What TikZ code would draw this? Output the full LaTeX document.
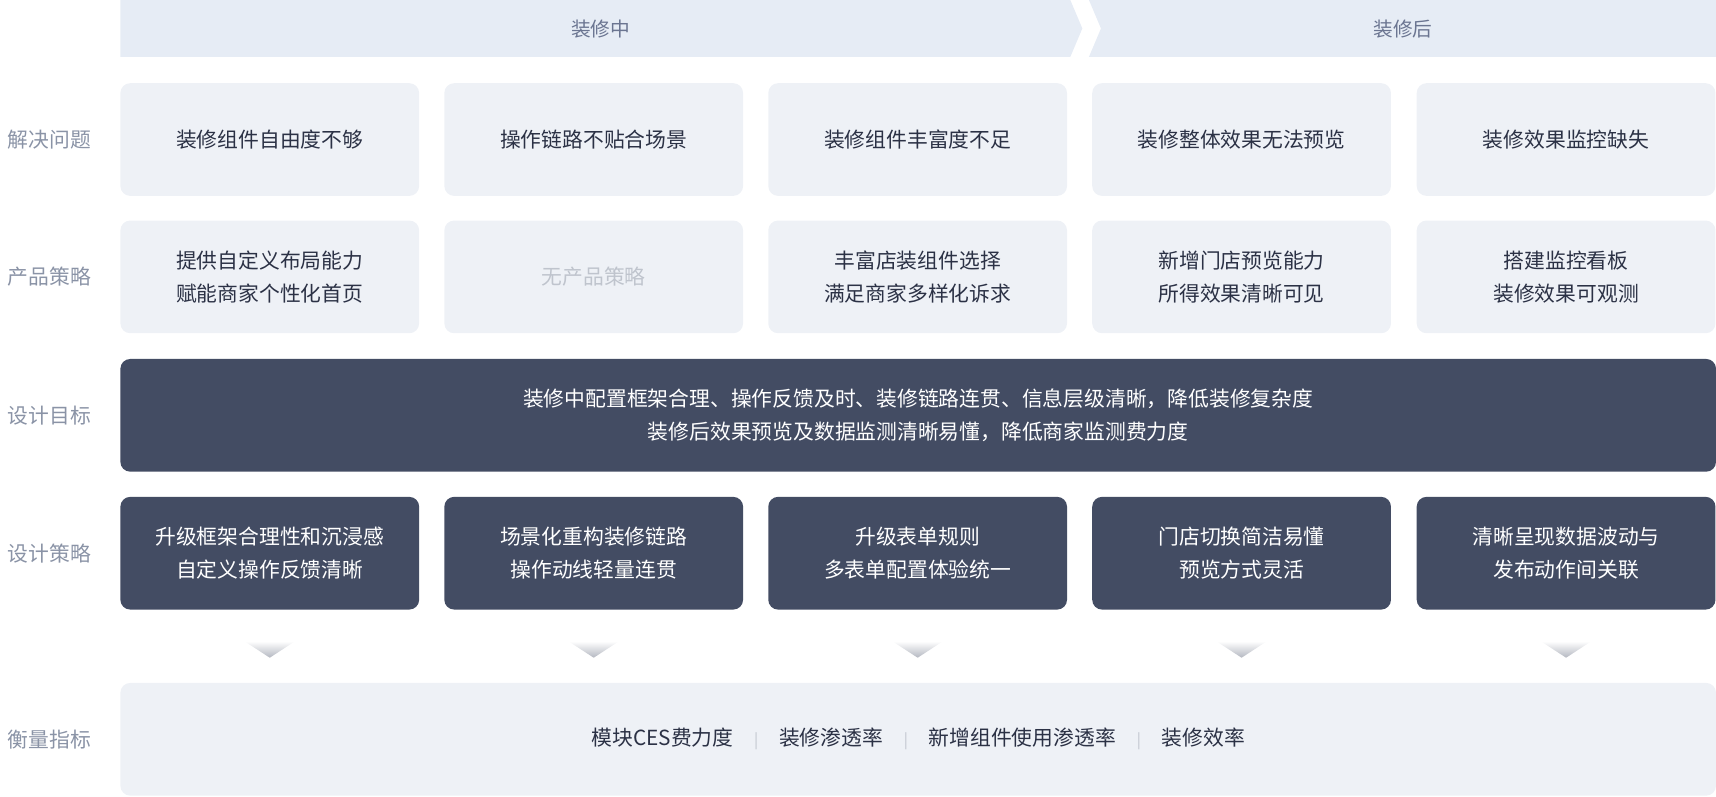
\documentclass[tikz,border=0pt]{standalone}
\usepackage{fontspec}
\setmainfont{Noto Sans CJK SC}
\usetikzlibrary{positioning}
\definecolor{bandbg}{HTML}{E6ECF5}
\definecolor{bandtxt}{HTML}{6B7591}
\definecolor{lightbg}{HTML}{EEF1F6}
\definecolor{darkbg}{HTML}{434C63}
\definecolor{maintxt}{HTML}{2B3145}
\definecolor{sidetxt}{HTML}{8A93A6}
\definecolor{mutetxt}{HTML}{BFC4CD}
\tikzset{
  lightbox/.style={fill=lightbg, rounded corners=9pt, minimum width=273pt, minimum height=103pt,
    text=maintxt, align=center, font=\fontsize{19}{30}\selectfont},
  darkbox/.style={lightbox, fill=darkbg, text=white},
  sidelabel/.style={text=sidetxt, font=\fontsize{19}{22}\selectfont},
  bandlabel/.style={text=bandtxt, font=\fontsize{18}{22}\selectfont},
  downtri/.style={top color=white, bottom color=darkbg!40, draw=none},
}
\begin{document}
\begin{tikzpicture}[x=1pt, y=-1pt]
    \useasboundingbox (0,0) rectangle (1568,728);

    % Bandeau des phases
    \fill[bandbg] (110,0) -- (978,0) -- (989,26) -- (978,52) -- (110,52) -- cycle;
    \fill[bandbg] (995,0) -- (1568,0) -- (1568,52) -- (995,52) -- (1006,26) -- cycle;
    \node[bandlabel] (during) at (549,27) {装修中};
    \node[bandlabel] (after) at (1282,27) {装修后};

    % Etiquettes des lignes
    \node[sidelabel] (lblA) at (45,128) {解决问题};
    \node[sidelabel] (lblB) at (45,253) {产品策略};
    \node[sidelabel] (lblC) at (45,380) {设计目标};
    \node[sidelabel] (lblD) at (45,506) {设计策略};
    \node[sidelabel] (lblE) at (45,676) {衡量指标};

    % Ligne 1
    \node[lightbox] (p1) at (246.5,127.5) {装修组件自由度不够};
    \node[lightbox] (p2) at (542.5,127.5) {操作链路不贴合场景};
    \node[lightbox] (p3) at (838.5,127.5) {装修组件丰富度不足};
    \node[lightbox] (p4) at (1134.5,127.5) {装修整体效果无法预览};
    \node[lightbox] (p5) at (1431,127.5) {装修效果监控缺失};

    % Ligne 2
    \node[lightbox] (s1) at (246.5,253) {提供自定义布局能力\\赋能商家个性化首页};
    \node[lightbox, text=mutetxt] (s2) at (542.5,253) {无产品策略};
    \node[lightbox] (s3) at (838.5,253) {丰富店装组件选择\\满足商家多样化诉求};
    \node[lightbox] (s4) at (1134.5,253) {新增门店预览能力\\所得效果清晰可见};
    \node[lightbox] (s5) at (1431,253) {搭建监控看板\\装修效果可观测};

    % Ligne 3
    \node[darkbox, minimum width=1458pt] (goal) at (839,379.5)
      {装修中配置框架合理、操作反馈及时、装修链路连贯、信息层级清晰，降低装修复杂度\\装修后效果预览及数据监测清晰易懂，降低商家监测费力度};

    % Ligne 4
    \node[darkbox] (d1) at (246.5,505.5) {升级框架合理性和沉浸感\\自定义操作反馈清晰};
    \node[darkbox] (d2) at (542.5,505.5) {场景化重构装修链路\\操作动线轻量连贯};
    \node[darkbox] (d3) at (838.5,505.5) {升级表单规则\\多表单配置体验统一};
    \node[darkbox] (d4) at (1134.5,505.5) {门店切换简洁易懂\\预览方式灵活};
    \node[darkbox] (d5) at (1431,505.5) {清晰呈现数据波动与\\发布动作间关联};

    % Triangles
    \foreach \cx in {246.5,542.5,838.5,1134.5,1431}
      \shade[downtri] (\cx-23,586) -- (\cx+23,586) -- (\cx,601) -- cycle;

    % Ligne 5
    \node[lightbox, minimum width=1458pt] (metric) at (839,675.5)
      {模块CES费力度\quad{\color{mutetxt}\fontsize{14}{14}\selectfont|}\quad 装修渗透率\quad{\color{mutetxt}\fontsize{14}{14}\selectfont|}\quad 新增组件使用渗透率\quad{\color{mutetxt}\fontsize{14}{14}\selectfont|}\quad 装修效率};
\end{tikzpicture}
\end{document}
